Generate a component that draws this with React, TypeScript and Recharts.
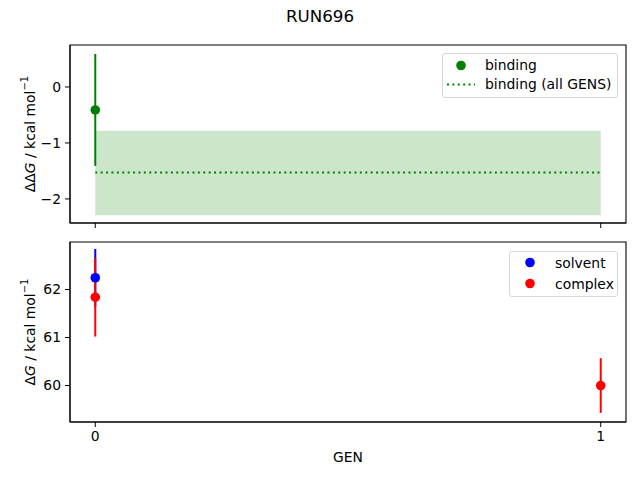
import React from "react";
import {
  ComposedChart,
  Scatter,
  ErrorBar,
  Area,
  Line,
  XAxis,
  YAxis,
  ReferenceArea,
  Legend,
} from "recharts";

// --- data ---
const gens = [0, 1];

// top panel: binding free energy per GEN
const bindingGens = [0];
const bindingValues = [-0.41];
const bindingErrors = [1.0];

// all-GENS estimate (dotted line) and its uncertainty band
const bindingAll = -1.53;
const bindingAllLow = -2.29;
const bindingAllHigh = -0.78;

// bottom panel
const solventGens = [0];
const solventValues = [62.245];
const solventErrors = [0.6];

const complexGens = [0, 1];
const complexValues = [61.84, 60.0];
const complexErrors = [0.82, 0.57];

const xTicks = [0, 1];
const topTicks = [-2, -1, 0];
const bottomTicks = [60, 61, 62];

const X_DOMAIN: [number, number] = [-0.05, 1.05];
const TOP_DOMAIN: [number, number] = [-2.43, 0.75];
const BOTTOM_DOMAIN: [number, number] = [59.24, 62.99];

const FONT = "'DejaVu Sans', sans-serif";

const bandData = gens.map((g) => ({
  gen: g,
  band: [bindingAllLow, bindingAllHigh],
  all: bindingAll,
}));
const bindingData = bindingGens.map((g, i) => ({
  gen: g,
  value: bindingValues[i],
  err: bindingErrors[i],
}));
const solventData = solventGens.map((g, i) => ({
  gen: g,
  value: solventValues[i],
  err: solventErrors[i],
}));
const complexData = complexGens.map((g, i) => ({
  gen: g,
  value: complexValues[i],
  err: complexErrors[i],
}));

const dot = (color: string) => (p: any) =>
  <circle cx={p.cx} cy={p.cy} r={4.8} fill={color} />;
const noDot = () => <g />;

const tickStyle = { fill: "#000", fontSize: 13.9, fontFamily: FONT };

function YLabel({ prefix, x, y }: { prefix: string; x: number; y: number }) {
  return (
    <text
      x={x}
      y={y}
      transform={`rotate(-90, ${x}, ${y})`}
      textAnchor="middle"
      dominantBaseline="central"
      fontSize={13.9}
      fontFamily={FONT}
      fill="#000"
    >
      {prefix}
      <tspan fontStyle="italic">G</tspan>
      {" / kcal mol"}
      <tspan dy={-6} fontSize={10}>
        −1
      </tspan>
    </text>
  );
}

type Entry = { label: string; color: string; kind: "dot" | "dotted" };

function LegendBox({
  entries,
  width,
  rowHeight,
  handleWidth,
  dotX,
  padding,
}: {
  entries: Entry[];
  width: number;
  rowHeight: number;
  handleWidth: number;
  dotX: number;
  padding: string;
}) {
  return (
    <div
      style={{
        width,
        boxSizing: "border-box",
        border: "1px solid #d6d6d6",
        borderRadius: 3,
        background: "rgba(255,255,255,0.8)",
        padding,
        fontFamily: FONT,
        fontSize: 13.9,
        color: "#000",
      }}
    >
      {entries.map((e) => (
        <div
          key={e.label}
          style={{ display: "flex", alignItems: "center", height: rowHeight }}
        >
          <svg width={handleWidth} height={rowHeight}>
            {e.kind === "dot" ? (
              <circle cx={dotX} cy={rowHeight / 2} r={4.8} fill={e.color} />
            ) : (
              <line
                x1={4}
                x2={32}
                y1={rowHeight / 2}
                y2={rowHeight / 2}
                stroke={e.color}
                strokeWidth={2}
                strokeDasharray="2 3.4"
              />
            )}
          </svg>
          <span>{e.label}</span>
        </div>
      ))}
    </div>
  );
}

export default function App() {
  return (
    <div
      style={{
        position: "fixed",
        left: 0,
        top: 0,
        width: 640,
        height: 480,
        background: "#fff",
      }}
    >
      <div
        style={{
          position: "absolute",
          top: 6,
          width: 640,
          textAlign: "center",
          fontFamily: FONT,
          fontSize: 16.7,
          lineHeight: "20px",
        }}
      >
        RUN696
      </div>

      {/* top panel */}
      <div style={{ position: "absolute", left: 0, top: 0 }}>
        <ComposedChart
          width={640}
          height={240}
          data={bandData}
          margin={{ top: 45, right: 14, left: 0, bottom: 0 }}
        >
          <XAxis
            dataKey="gen"
            type="number"
            domain={X_DOMAIN}
            ticks={xTicks}
            tickFormatter={() => ""}
            height={17}
            tickSize={5}
            stroke="#000"
            allowDataOverflow
          />
          <YAxis
            type="number"
            domain={TOP_DOMAIN}
            ticks={topTicks}
            tickFormatter={(v: number) => (v < 0 ? `−${-v}` : `${v}`)}
            width={70}
            tickSize={5}
            tickMargin={4}
            tick={tickStyle}
            stroke="#000"
            allowDataOverflow
            label={{ content: () => <YLabel prefix="ΔΔ" x={30} y={134} /> }}
          />
          <ReferenceArea
            x1={X_DOMAIN[0]}
            x2={X_DOMAIN[1]}
            y1={TOP_DOMAIN[0]}
            y2={TOP_DOMAIN[1]}
            fill="none"
            stroke="#000"
            strokeWidth={1.1}
            ifOverflow="visible"
          />
          <Area
            dataKey="band"
            type="linear"
            fill="green"
            fillOpacity={0.2}
            stroke="none"
            isAnimationActive={false}
          />
          <Line
            dataKey="all"
            type="linear"
            stroke="green"
            strokeWidth={2}
            strokeDasharray="2 3.4"
            dot={false}
            isAnimationActive={false}
          />
          <Scatter
            data={bindingData}
            dataKey="value"
            shape={dot("green")}
            isAnimationActive={false}
          >
            <ErrorBar
              dataKey="err"
              direction="y"
              width={0}
              stroke="green"
              strokeWidth={2}
            />
          </Scatter>
          <Legend
            layout="vertical"
            align="center"
            verticalAlign="middle"
            wrapperStyle={{ top: 53, left: 442, width: 176 }}
            content={() => (
              <LegendBox
                width={176}
                rowHeight={19}
                handleWidth={42}
                dotX={18}
                padding="1.5px 0 3.5px 0"
                entries={[
                  { label: "binding", color: "green", kind: "dot" },
                  { label: "binding (all GENS)", color: "green", kind: "dotted" },
                ]}
              />
            )}
          />
        </ComposedChart>
      </div>

      {/* bottom panel */}
      <div style={{ position: "absolute", left: 0, top: 230 }}>
        <ComposedChart
          width={640}
          height={250}
          margin={{ top: 12, right: 14, left: 0, bottom: 0 }}
        >
          <XAxis
            dataKey="gen"
            type="number"
            domain={X_DOMAIN}
            ticks={xTicks}
            height={58}
            tickSize={5}
            tickMargin={4}
            tick={tickStyle}
            stroke="#000"
            allowDataOverflow
            label={{
              content: () => (
                <text
                  x={348}
                  y={227}
                  textAnchor="middle"
                  dominantBaseline="central"
                  fontSize={13.9}
                  fontFamily={FONT}
                  fill="#000"
                >
                  GEN
                </text>
              ),
            }}
          />
          <YAxis
            type="number"
            domain={BOTTOM_DOMAIN}
            ticks={bottomTicks}
            width={70}
            tickSize={5}
            tickMargin={4}
            tick={tickStyle}
            stroke="#000"
            allowDataOverflow
            label={{ content: () => <YLabel prefix="Δ" x={30} y={102} /> }}
          />
          <ReferenceArea
            x1={X_DOMAIN[0]}
            x2={X_DOMAIN[1]}
            y1={BOTTOM_DOMAIN[0]}
            y2={BOTTOM_DOMAIN[1]}
            fill="none"
            stroke="#000"
            strokeWidth={1.1}
            ifOverflow="visible"
          />
          <Scatter
            data={solventData}
            dataKey="value"
            shape={noDot}
            isAnimationActive={false}
          >
            <ErrorBar dataKey="err" direction="y" width={0} stroke="blue" strokeWidth={2} />
          </Scatter>
          <Scatter
            data={complexData}
            dataKey="value"
            shape={noDot}
            isAnimationActive={false}
          >
            <ErrorBar dataKey="err" direction="y" width={0} stroke="red" strokeWidth={2} />
          </Scatter>
          <Scatter
            data={solventData}
            dataKey="value"
            shape={dot("blue")}
            isAnimationActive={false}
          />
          <Scatter
            data={complexData}
            dataKey="value"
            shape={dot("red")}
            isAnimationActive={false}
          />
          <Legend
            layout="vertical"
            align="center"
            verticalAlign="middle"
            wrapperStyle={{ top: 21, left: 509, width: 109 }}
            content={() => (
              <LegendBox
                width={109}
                rowHeight={21}
                handleWidth={45}
                dotX={20}
                padding="0 0 2px 0"
                entries={[
                  { label: "solvent", color: "blue", kind: "dot" },
                  { label: "complex", color: "red", kind: "dot" },
                ]}
              />
            )}
          />
        </ComposedChart>
      </div>
    </div>
  );
}
